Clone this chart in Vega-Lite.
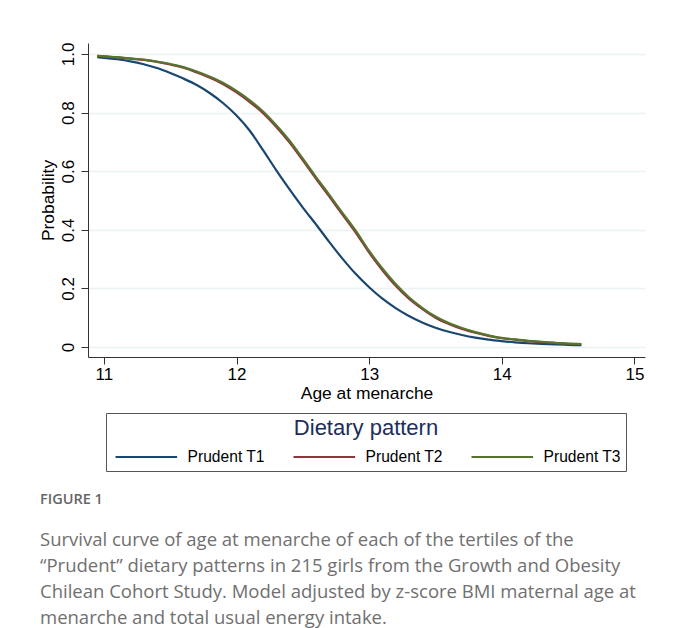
{
  "$schema": "https://vega.github.io/schema/vega-lite/v6.json",
  "width": 557,
  "height": 314,
  "autosize": {"type": "none"},
  "padding": {"left": 88, "top": 43, "right": 36, "bottom": 271},
  "background": "white",
  "config": {"view": {"stroke": null}, "font": "Liberation Sans"},
  "title": {
    "text": "FIGURE 1",
    "subtitle": [
      "Survival curve of age at menarche of each of the tertiles of the",
      "“Prudent” dietary patterns in 215 girls from the Growth and Obesity",
      "Chilean Cohort Study. Model adjusted by z-score BMI maternal age at",
      "menarche and total usual energy intake."
    ],
    "orient": "bottom",
    "anchor": "start",
    "frame": "group",
    "dx": -48,
    "offset": 21,
    "font": "Open Sans",
    "fontSize": 14.5,
    "fontWeight": 600,
    "color": "#666666",
    "subtitleFont": "Open Sans",
    "subtitleFontSize": 18.5,
    "subtitleColor": "#707070",
    "subtitleLineHeight": 26,
    "subtitlePadding": 24
  },
  "data": {
    "values": [
      {"age": 10.95, "p": 0.989, "g": "Prudent T1"},
      {"age": 11.0, "p": 0.987, "g": "Prudent T1"},
      {"age": 11.1, "p": 0.982, "g": "Prudent T1"},
      {"age": 11.2, "p": 0.975, "g": "Prudent T1"},
      {"age": 11.3, "p": 0.965, "g": "Prudent T1"},
      {"age": 11.4, "p": 0.952, "g": "Prudent T1"},
      {"age": 11.5, "p": 0.935, "g": "Prudent T1"},
      {"age": 11.6, "p": 0.916, "g": "Prudent T1"},
      {"age": 11.7, "p": 0.894, "g": "Prudent T1"},
      {"age": 11.8, "p": 0.866, "g": "Prudent T1"},
      {"age": 11.9, "p": 0.832, "g": "Prudent T1"},
      {"age": 12.0, "p": 0.79, "g": "Prudent T1"},
      {"age": 12.1, "p": 0.738, "g": "Prudent T1"},
      {"age": 12.2, "p": 0.672, "g": "Prudent T1"},
      {"age": 12.3, "p": 0.603, "g": "Prudent T1"},
      {"age": 12.4, "p": 0.538, "g": "Prudent T1"},
      {"age": 12.5, "p": 0.476, "g": "Prudent T1"},
      {"age": 12.6, "p": 0.418, "g": "Prudent T1"},
      {"age": 12.7, "p": 0.358, "g": "Prudent T1"},
      {"age": 12.8, "p": 0.301, "g": "Prudent T1"},
      {"age": 12.9, "p": 0.249, "g": "Prudent T1"},
      {"age": 13.0, "p": 0.204, "g": "Prudent T1"},
      {"age": 13.1, "p": 0.165, "g": "Prudent T1"},
      {"age": 13.2, "p": 0.133, "g": "Prudent T1"},
      {"age": 13.3, "p": 0.106, "g": "Prudent T1"},
      {"age": 13.4, "p": 0.084, "g": "Prudent T1"},
      {"age": 13.5, "p": 0.066, "g": "Prudent T1"},
      {"age": 13.6, "p": 0.052, "g": "Prudent T1"},
      {"age": 13.7, "p": 0.041, "g": "Prudent T1"},
      {"age": 13.8, "p": 0.032, "g": "Prudent T1"},
      {"age": 13.9, "p": 0.025, "g": "Prudent T1"},
      {"age": 14.0, "p": 0.02, "g": "Prudent T1"},
      {"age": 14.1, "p": 0.016, "g": "Prudent T1"},
      {"age": 14.2, "p": 0.013, "g": "Prudent T1"},
      {"age": 14.3, "p": 0.011, "g": "Prudent T1"},
      {"age": 14.4, "p": 0.009, "g": "Prudent T1"},
      {"age": 14.5, "p": 0.0074, "g": "Prudent T1"},
      {"age": 14.6, "p": 0.0061, "g": "Prudent T1"},
      {"age": 10.95, "p": 0.994, "g": "Prudent T2"},
      {"age": 11.0, "p": 0.992, "g": "Prudent T2"},
      {"age": 11.1, "p": 0.988, "g": "Prudent T2"},
      {"age": 11.2, "p": 0.984, "g": "Prudent T2"},
      {"age": 11.3, "p": 0.98, "g": "Prudent T2"},
      {"age": 11.4, "p": 0.973, "g": "Prudent T2"},
      {"age": 11.5, "p": 0.964, "g": "Prudent T2"},
      {"age": 11.6, "p": 0.953, "g": "Prudent T2"},
      {"age": 11.7, "p": 0.937, "g": "Prudent T2"},
      {"age": 11.8, "p": 0.919, "g": "Prudent T2"},
      {"age": 11.9, "p": 0.897, "g": "Prudent T2"},
      {"age": 12.0, "p": 0.869, "g": "Prudent T2"},
      {"age": 12.1, "p": 0.836, "g": "Prudent T2"},
      {"age": 12.2, "p": 0.798, "g": "Prudent T2"},
      {"age": 12.3, "p": 0.751, "g": "Prudent T2"},
      {"age": 12.4, "p": 0.698, "g": "Prudent T2"},
      {"age": 12.5, "p": 0.637, "g": "Prudent T2"},
      {"age": 12.6, "p": 0.574, "g": "Prudent T2"},
      {"age": 12.7, "p": 0.513, "g": "Prudent T2"},
      {"age": 12.8, "p": 0.451, "g": "Prudent T2"},
      {"age": 12.9, "p": 0.39, "g": "Prudent T2"},
      {"age": 13.0, "p": 0.322, "g": "Prudent T2"},
      {"age": 13.1, "p": 0.262, "g": "Prudent T2"},
      {"age": 13.2, "p": 0.209, "g": "Prudent T2"},
      {"age": 13.3, "p": 0.165, "g": "Prudent T2"},
      {"age": 13.4, "p": 0.13, "g": "Prudent T2"},
      {"age": 13.5, "p": 0.1, "g": "Prudent T2"},
      {"age": 13.6, "p": 0.079, "g": "Prudent T2"},
      {"age": 13.7, "p": 0.062, "g": "Prudent T2"},
      {"age": 13.8, "p": 0.049, "g": "Prudent T2"},
      {"age": 13.9, "p": 0.038, "g": "Prudent T2"},
      {"age": 14.0, "p": 0.03, "g": "Prudent T2"},
      {"age": 14.1, "p": 0.025, "g": "Prudent T2"},
      {"age": 14.2, "p": 0.02, "g": "Prudent T2"},
      {"age": 14.3, "p": 0.017, "g": "Prudent T2"},
      {"age": 14.4, "p": 0.014, "g": "Prudent T2"},
      {"age": 14.5, "p": 0.011, "g": "Prudent T2"},
      {"age": 14.6, "p": 0.0095, "g": "Prudent T2"},
      {"age": 10.95, "p": 0.994, "g": "Prudent T3"},
      {"age": 11.0, "p": 0.992, "g": "Prudent T3"},
      {"age": 11.1, "p": 0.989, "g": "Prudent T3"},
      {"age": 11.2, "p": 0.985, "g": "Prudent T3"},
      {"age": 11.3, "p": 0.981, "g": "Prudent T3"},
      {"age": 11.4, "p": 0.974, "g": "Prudent T3"},
      {"age": 11.5, "p": 0.966, "g": "Prudent T3"},
      {"age": 11.6, "p": 0.955, "g": "Prudent T3"},
      {"age": 11.7, "p": 0.94, "g": "Prudent T3"},
      {"age": 11.8, "p": 0.922, "g": "Prudent T3"},
      {"age": 11.9, "p": 0.901, "g": "Prudent T3"},
      {"age": 12.0, "p": 0.874, "g": "Prudent T3"},
      {"age": 12.1, "p": 0.842, "g": "Prudent T3"},
      {"age": 12.2, "p": 0.804, "g": "Prudent T3"},
      {"age": 12.3, "p": 0.757, "g": "Prudent T3"},
      {"age": 12.4, "p": 0.704, "g": "Prudent T3"},
      {"age": 12.5, "p": 0.643, "g": "Prudent T3"},
      {"age": 12.6, "p": 0.58, "g": "Prudent T3"},
      {"age": 12.7, "p": 0.519, "g": "Prudent T3"},
      {"age": 12.8, "p": 0.457, "g": "Prudent T3"},
      {"age": 12.9, "p": 0.396, "g": "Prudent T3"},
      {"age": 13.0, "p": 0.328, "g": "Prudent T3"},
      {"age": 13.1, "p": 0.268, "g": "Prudent T3"},
      {"age": 13.2, "p": 0.215, "g": "Prudent T3"},
      {"age": 13.3, "p": 0.17, "g": "Prudent T3"},
      {"age": 13.4, "p": 0.134, "g": "Prudent T3"},
      {"age": 13.5, "p": 0.104, "g": "Prudent T3"},
      {"age": 13.6, "p": 0.082, "g": "Prudent T3"},
      {"age": 13.7, "p": 0.065, "g": "Prudent T3"},
      {"age": 13.8, "p": 0.051, "g": "Prudent T3"},
      {"age": 13.9, "p": 0.04, "g": "Prudent T3"},
      {"age": 14.0, "p": 0.031, "g": "Prudent T3"},
      {"age": 14.1, "p": 0.026, "g": "Prudent T3"},
      {"age": 14.2, "p": 0.021, "g": "Prudent T3"},
      {"age": 14.3, "p": 0.018, "g": "Prudent T3"},
      {"age": 14.4, "p": 0.0145, "g": "Prudent T3"},
      {"age": 14.5, "p": 0.012, "g": "Prudent T3"},
      {"age": 14.6, "p": 0.01, "g": "Prudent T3"}
    ]
  },
  "mark": {"type": "line", "strokeWidth": 2.2, "interpolate": "monotone"},
  "encoding": {
    "x": {
      "field": "age",
      "type": "quantitative",
      "scale": {"domain": [10.88, 15.08], "nice": false, "zero": false},
      "axis": {
        "values": [11, 12, 13, 14, 15],
        "format": "d",
        "title": "Age at menarche",
        "titleFontSize": 17.4,
        "titleFontWeight": "normal",
        "titleColor": "black",
        "titlePadding": 2,
        "labelFontSize": 17,
        "labelColor": "black",
        "labelPadding": 2,
        "labelFlush": false,
        "tickSize": 7,
        "tickColor": "#333333",
        "domainColor": "#333333",
        "grid": false
      }
    },
    "y": {
      "field": "p",
      "type": "quantitative",
      "scale": {"domain": [-0.034, 1.0375], "nice": false, "zero": false},
      "axis": {
        "values": [0, 0.2, 0.4, 0.6, 0.8, 1],
        "labelExpr": "datum.value == 0 ? '0' : format(datum.value, '.1f')",
        "labelAngle": 270,
        "labelAlign": "center",
        "labelBaseline": "bottom",
        "labelFontSize": 17,
        "labelColor": "black",
        "labelPadding": 4,
        "tickSize": 7,
        "tickColor": "#333333",
        "domainColor": "#333333",
        "grid": true,
        "gridColor": "#eaf2f3",
        "gridWidth": 1.5,
        "title": "Probability",
        "titleFontSize": 17.4,
        "titleFontWeight": "normal",
        "titleColor": "black",
        "titlePadding": 2
      }
    },
    "color": {
      "field": "g",
      "type": "nominal",
      "scale": {
        "domain": ["Prudent T1", "Prudent T2", "Prudent T3"],
        "range": ["#1a476f", "#90353b", "#55752f"]
      },
      "legend": {
        "orient": "none",
        "legendX": 18,
        "legendY": 370,
        "direction": "horizontal",
        "title": "Dietary pattern",
        "titleAnchor": "middle",
        "titleOrient": "top",
        "titleFontSize": 22,
        "titleFontWeight": "normal",
        "titleColor": "#1c2e5b",
        "titlePadding": 9,
        "labelFontSize": 15.6,
        "labelColor": "black",
        "labelLimit": 200,
        "symbolType": "M-0.6,0H10.6",
        "symbolSize": 121,
        "symbolStrokeWidth": 2,
        "labelOffset": 61,
        "columnPadding": 24,
        "padding": 5,
        "strokeColor": "#555555"
      }
    }
  }
}
